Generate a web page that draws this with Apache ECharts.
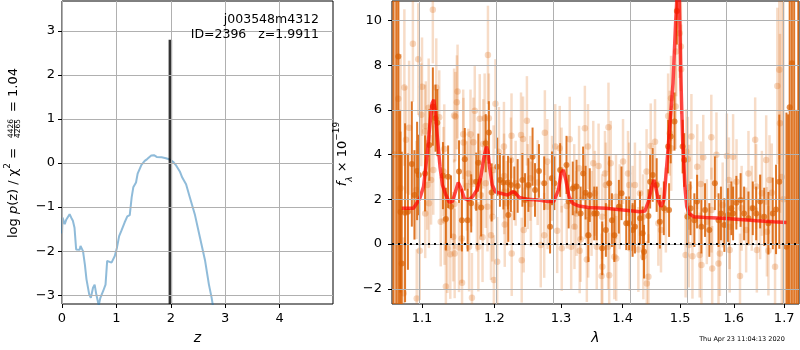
<!DOCTYPE html>
<html>
<head>
<meta charset="utf-8">
<script src="https://cdn.jsdelivr.net/npm/echarts@6/dist/echarts.min.js"></script>
<style>
  html, body { margin: 0; padding: 0; background: #fff; }
  #chart { width: 800px; height: 350px; }
</style>
</head>
<body>
<div id="chart"></div>
<script>
// left panel: log p(z)
const pzZ = [0, 0.01, 0.05, 0.08, 0.11, 0.14, 0.17, 0.2, 0.23, 0.26, 0.29, 0.325, 0.34, 0.37, 0.386, 0.42, 0.45, 0.5, 0.53, 0.57, 0.6, 0.63, 0.675, 0.705, 0.755, 0.8, 0.83, 0.865, 0.91, 0.97, 1.01, 1.05, 1.09, 1.15, 1.2, 1.245, 1.28, 1.31, 1.36, 1.39, 1.42, 1.46, 1.52, 1.565, 1.6, 1.64, 1.69, 1.74, 1.83, 1.91, 1.98, 2.04, 2.1, 2.165, 2.21, 2.28, 2.35, 2.44, 2.53, 2.63, 2.7, 2.75, 2.78]
const pzLogp = [-1.6, -1.24, -1.39, -1.28, -1.31, -1.16, -1.24, -1.31, -1.47, -1.96, -1.92, -1.97, -1.88, -1.85, -2.0, -2.3, -2.64, -2.98, -3.06, -2.83, -2.76, -2.98, -3.23, -3.06, -2.91, -2.76, -2.22, -2.19, -2.26, -2.11, -1.92, -1.66, -1.54, -1.35, -1.21, -1.18, -0.78, -0.55, -0.44, -0.24, -0.21, -0.04, 0.05, 0.09, 0.13, 0.17, 0.18, 0.14, 0.13, 0.11, 0.08, 0.03, -0.06, -0.19, -0.33, -0.48, -0.78, -1.16, -1.66, -2.22, -2.76, -3.06, -3.29]
const zBest = 1.9911
const zBestTop = 2.8
const zTicks = [0, 1, 2, 3, 4]
const pzTicks = [-3, -2, -1, 0, 1, 2, 3]
const zRange = [0, 4.98]
const pzRange = [-3.2, 3.68]

// right panel: spectrum, points are [lambda, flux, err]
const lightPts = [
  [1.0640, 4.0, 8.0], [1.0690, 6.5, 5.0], [1.0720, 2.5, 6.0], [1.0760, -2.2, 2.5], [1.0769, 7.0, 3.5],
  [1.0790, 4.66, 2.4], [1.0830, 5.2, 3.0], [1.0880, 8.96, 2.6], [1.0926, 2.42, 2.2], [1.0930, -2.43, 2.2],
  [1.0950, 8.27, 2.5], [1.0970, -0.30, 2.2], [1.0990, 5.78, 2.3], [1.1000, 7.04, 2.2], [1.1040, 5.03, 2.1],
  [1.1042, 1.37, 2.0], [1.1050, 5.28, 2.0], [1.1070, 2.64, 2.0], [1.1088, 6.10, 2.2], [1.1092, 1.82, 2.0],
  [1.1120, 2.87, 2.0], [1.1144, 10.48, 2.4], [1.1150, 3.31, 2.0], [1.1190, 7.00, 2.2], [1.1230, 5.67, 2.1],
  [1.1250, 1.00, 2.0], [1.1287, 3.24, 2.0], [1.1298, 4.25, 2.0], [1.1302, 1.07, 2.0], [1.1320, -1.90, 2.0],
  [1.1340, -0.19, 2.0], [1.1380, -0.45, 2.0], [1.1420, 0.33, 2.0], [1.1432, 5.75, 2.1], [1.1436, 1.79, 2.0],
  [1.1440, -0.42, 2.0], [1.1450, 5.70, 2.0], [1.1470, 6.34, 2.1], [1.1480, 6.82, 2.1], [1.1500, -0.15, 2.0],
  [1.1538, 0.25, 2.0], [1.1542, -1.73, 2.0], [1.1558, 4.91, 2.0], [1.1562, 4.54, 2.0], [1.1610, 2.60, 2.0],
  [1.1630, 3.16, 2.0], [1.1640, -0.12, 2.0], [1.1660, 4.91, 2.0], [1.1670, 2.79, 2.0], [1.1680, -2.40, 2.0],
  [1.1700, 4.55, 2.0], [1.1720, 5.96, 2.0], [1.1750, 1.67, 2.0], [1.1770, -0.12, 2.0], [1.1790, 5.60, 2.0],
  [1.1800, 2.19, 2.0], [1.1830, 0.30, 2.0], [1.1840, 4.48, 2.0], [1.1860, 5.63, 2.0], [1.1875, 2.72, 2.0],
  [1.1900, 1.67, 2.0], [1.1907, 8.46, 2.2], [1.1920, 5.63, 2.0], [1.1950, 0.40, 2.0], [1.1970, 1.22, 2.0],
  [1.1988, 3.31, 2.0], [1.1992, -1.61, 2.0], [1.2015, 6.27, 2.0], [1.2040, -0.79, 2.0], [1.2065, 4.13, 2.0],
  [1.2138, 4.36, 2.0], [1.2140, 3.04, 1.9], [1.2142, 2.34, 1.9], [1.2150, 0.88, 1.9], [1.2180, 1.82, 1.9],
  [1.2240, 3.76, 1.9], [1.2249, 4.84, 1.9], [1.2252, -0.42, 1.9], [1.2310, 2.72, 1.9], [1.2390, 4.88, 1.9],
  [1.2400, -0.72, 1.9], [1.2420, 4.70, 1.9], [1.2430, 0.63, 1.9], [1.2478, 5.51, 2.0], [1.2490, 2.57, 1.9],
  [1.2530, 2.94, 1.9], [1.2538, 1.79, 1.9], [1.2640, 2.75, 1.9], [1.2687, -0.04, 1.9], [1.2740, 0.39, 1.9],
  [1.2750, 4.98, 1.9], [1.2788, 3.69, 1.9], [1.2792, 1.67, 1.9], [1.2860, 2.94, 1.9], [1.2910, 4.36, 1.9],
  [1.2940, 0.60, 1.9], [1.2980, 4.28, 1.9], [1.3008, 3.31, 1.9], [1.3012, -0.19, 1.9], [1.3090, 1.70, 1.9],
  [1.3137, 4.69, 1.9], [1.3160, -0.12, 1.9], [1.3208, 2.57, 1.9], [1.3212, 0.78, 1.9], [1.3245, 1.37, 1.9],
  [1.3285, 3.39, 1.9], [1.3295, -0.30, 1.9], [1.3310, 0.21, 1.9], [1.3378, 5.18, 1.9], [1.3382, 2.12, 1.9],
  [1.3410, -0.69, 1.9], [1.3428, 4.36, 1.9], [1.3432, 0.40, 1.9], [1.3486, 1.37, 1.9], [1.3514, 3.61, 1.9],
  [1.3540, 2.27, 1.9], [1.3570, -0.12, 1.9], [1.3600, 3.49, 1.9], [1.3650, -1.43, 1.9], [1.3658, 1.22, 1.9],
  [1.3662, -1.01, 1.9], [1.3705, 3.16, 1.9], [1.3720, 2.64, 1.9], [1.3757, -0.12, 1.9], [1.3763, 5.22, 2.0],
  [1.3775, -1.39, 1.9], [1.3800, 3.61, 1.9], [1.3860, -0.57, 1.9], [1.3888, 2.12, 1.9], [1.3892, -0.64, 1.9],
  [1.3950, 1.67, 1.9], [1.4006, 3.69, 1.9], [1.4090, 3.16, 1.9], [1.4110, 2.64, 1.9], [1.4120, -0.19, 1.9],
  [1.4168, 1.60, 1.9], [1.4208, 2.64, 1.9], [1.4266, -0.24, 1.9], [1.4295, 2.27, 1.9], [1.4348, 1.22, 1.9],
  [1.4352, -0.57, 1.9], [1.4408, 3.24, 1.9], [1.4412, -1.76, 1.9], [1.4440, -1.46, 1.9], [1.4480, 4.39, 1.9],
  [1.4555, 4.58, 1.9], [1.4613, 0.93, 1.9], [1.4660, 0.63, 1.9], [1.4746, 1.52, 1.9], [1.4786, 5.73, 1.9],
  [1.4815, 4.96, 1.9], [1.4838, 6.52, 1.9], [1.4842, 4.28, 1.9], [1.4920, 6.15, 1.9], [1.4930, 8.61, 2.0],
  [1.4990, 9.43, 2.0], [1.5015, 8.84, 2.0], [1.5019, 7.82, 2.0], [1.5100, -0.49, 1.9], [1.5115, 4.13, 1.9],
  [1.5140, 3.79, 1.9], [1.5158, -0.04, 1.9], [1.5162, 2.54, 1.9], [1.5206, 4.81, 1.9], [1.5225, -0.54, 1.9],
  [1.5312, 3.46, 1.9], [1.5358, -0.49, 1.9], [1.5378, 2.69, 1.9], [1.5390, -0.94, 1.9], [1.5424, 3.88, 1.9],
  [1.5490, 1.00, 1.9], [1.5574, 4.78, 1.9], [1.5578, 1.52, 1.9], [1.5590, -1.09, 1.9], [1.5670, 3.99, 1.9],
  [1.5709, -0.87, 1.9], [1.5735, -0.42, 1.9], [1.5788, 1.75, 1.9], [1.5868, 3.94, 1.9], [1.5907, 2.87, 1.9],
  [1.5918, 0.78, 1.9], [1.5922, -0.27, 1.9], [1.5987, 3.91, 1.9], [1.6053, 2.79, 1.9], [1.6120, -1.43, 1.9],
  [1.6152, 1.60, 1.9], [1.6240, 0.63, 1.9], [1.6285, 3.16, 1.9], [1.6350, 1.60, 1.9], [1.6417, 4.66, 1.9],
  [1.6437, 2.57, 1.9], [1.6450, -0.27, 1.9], [1.6516, 1.22, 1.9], [1.6550, 2.27, 1.9], [1.6636, 3.76, 2.0],
  [1.6650, 0.55, 2.0], [1.6680, -0.30, 2.0], [1.6702, 2.87, 2.0], [1.6748, 2.30, 2.2], [1.6814, -1.01, 2.4],
  [1.6860, 7.07, 3.5], [1.6900, 7.79, 4.0], [1.6914, 5.40, 4.0], [1.6950, 3.0, 9.0], [1.6985, 2.0, 10.0]
]

const darkPts = [
  [1.0628, -12, 25], [1.0665, 14, 20], [1.0691, 8.39, 20], [1.0713, -9, 15], [1.0718, 1.43, 3.6],
  [1.0735, -0.87, 5.0], [1.0778, 1.40, 4.0], [1.0815, 1.45, 2.6], [1.0866, 3.58, 2.8], [1.0900, 2.2, 2.0],
  [1.0935, 3.27, 2.2], [1.0958, 3.09, 1.8], [1.1040, 3.16, 1.7], [1.1097, 4.43, 1.6], [1.1144, 6.15, 1.75],
  [1.1180, 5.63, 1.5], [1.1204, 5.43, 1.5], [1.1280, 3.06, 1.5], [1.1320, 1.12, 1.4], [1.1350, 3.01, 1.4],
  [1.1390, 1.67, 1.4], [1.1500, 3.24, 1.4], [1.1540, 1.07, 1.4], [1.1580, 3.79, 1.4], [1.1620, 1.07, 1.4],
  [1.1670, 1.82, 1.3], [1.1740, 2.79, 1.3], [1.1770, 3.64, 1.3], [1.1810, 1.64, 1.3], [1.1875, 4.51, 1.3],
  [1.1920, 4.99, 1.4], [1.1960, 2.31, 1.3], [1.2040, 3.46, 1.3], [1.2080, 2.87, 1.2], [1.2130, 2.75, 1.2],
  [1.2198, 2.75, 1.2], [1.2202, 1.30, 1.2], [1.2240, 2.64, 1.2], [1.2290, 2.27, 1.2], [1.2340, 2.60, 1.2],
  [1.2410, 2.87, 1.2], [1.2450, 1.97, 1.2], [1.2500, 2.64, 1.2], [1.2563, 3.91, 1.3], [1.2600, 2.42, 1.2],
  [1.2660, 3.27, 1.2], [1.2740, 2.72, 1.2], [1.2830, 0.78, 1.2], [1.2860, 2.94, 1.2], [1.2896, 2.72, 1.2],
  [1.2986, 3.31, 1.2], [1.3086, 3.54, 1.3], [1.3120, 1.90, 1.2], [1.3185, 2.49, 1.2], [1.3245, 2.57, 1.2],
  [1.3310, 1.37, 1.2], [1.3350, 3.16, 1.2], [1.3390, 2.30, 1.2], [1.3434, 0.40, 1.2], [1.3457, 2.19, 1.2],
  [1.3530, 1.37, 1.2], [1.3570, 1.37, 1.2], [1.3660, -0.19, 1.2], [1.3720, 0.63, 1.2], [1.3775, 2.72, 1.2],
  [1.3820, 1.07, 1.2], [1.3860, 0.40, 1.2], [1.3936, 1.67, 1.2], [1.3980, 2.27, 1.2], [1.4060, 0.93, 1.2],
  [1.4110, 0.93, 1.2], [1.4168, 0.63, 1.2], [1.4208, 0.78, 1.2], [1.4295, 1.15, 1.2], [1.4340, 0.48, 1.2],
  [1.4364, -0.34, 1.2], [1.4440, 1.25, 1.2], [1.4470, 2.79, 1.2], [1.4515, 3.09, 1.2], [1.4584, 2.64, 1.2],
  [1.4640, 1.00, 1.2], [1.4710, 1.60, 1.2], [1.4786, 4.36, 1.2], [1.4803, 1.52, 1.2], [1.4832, 4.81, 1.2],
  [1.4900, 5.48, 1.3], [1.4942, 10.42, 1.5], [1.5046, 4.36, 1.2], [1.5075, 3.76, 1.2], [1.5133, 1.22, 1.2],
  [1.5190, 1.60, 1.2], [1.5260, 1.07, 1.2], [1.5310, 1.90, 1.2], [1.5390, 0.78, 1.2], [1.5457, 1.52, 1.2],
  [1.5537, 0.63, 1.2], [1.5640, 2.72, 1.2], [1.5710, 1.07, 1.2], [1.5755, 1.37, 1.2], [1.5820, 0.85, 1.2],
  [1.5887, 1.30, 1.2], [1.5954, 1.60, 1.2], [1.5987, 1.37, 1.2], [1.6050, 1.85, 1.2], [1.6132, 1.97, 1.2],
  [1.6200, 1.37, 1.2], [1.6285, 1.15, 1.2], [1.6370, 1.60, 1.2], [1.6437, 1.37, 1.2], [1.6516, 1.90, 1.2],
  [1.6596, 1.22, 1.3], [1.6680, 0.93, 1.4], [1.6768, 1.37, 1.6], [1.6834, 1.55, 2.0], [1.6900, 2.79, 3.0],
  [1.7046, -0.12, 6.0], [1.7080, -4, 9.8], [1.7112, 6.12, 20], [1.7158, 8.09, 20], [1.7205, 13, 18],
  [1.7250, -10, 16], [1.7290, 14, 20]
]

const modelLam = [1.0735, 1.0888, 1.097, 1.102, 1.1065, 1.1102, 1.1134, 1.1157, 1.118, 1.1204, 1.124, 1.1273, 1.132, 1.1366, 1.141, 1.1458, 1.149, 1.1528, 1.1574, 1.163, 1.169, 1.175, 1.1805, 1.1852, 1.1884, 1.1907, 1.193, 1.1968, 1.2014, 1.209, 1.219, 1.2264, 1.23, 1.2364, 1.249, 1.2637, 1.281, 1.2886, 1.296, 1.3, 1.3036, 1.3076, 1.3125, 1.3185, 1.3285, 1.3434, 1.3717, 1.4006, 1.4295, 1.438, 1.444, 1.45, 1.4538, 1.4572, 1.4613, 1.466, 1.471, 1.477, 1.4815, 1.4873, 1.492, 1.4975, 1.5017, 1.5046, 1.5087, 1.5121, 1.5162, 1.5248, 1.5457, 1.5788, 1.612, 1.645, 1.678, 1.7046]
const modelFlux = [1.6, 1.6, 2.04, 2.57, 3.91, 5.25, 6.3, 6.45, 5.85, 4.81, 3.46, 2.64, 2.19, 1.87, 1.9, 2.42, 2.75, 2.49, 2.04, 1.97, 2.12, 2.42, 3.01, 3.91, 4.36, 4.13, 3.46, 2.64, 2.34, 2.27, 2.19, 2.34, 2.3, 2.09, 2.0, 1.97, 1.9, 1.9, 2.42, 3.16, 3.31, 2.87, 2.12, 1.82, 1.70, 1.64, 1.60, 1.52, 1.45, 1.48, 1.9, 2.57, 2.87, 2.49, 1.97, 1.67, 1.97, 3.76, 5.25, 7.19, 9.9, 12.5, 7.19, 4.66, 2.57, 1.67, 1.37, 1.22, 1.19, 1.15, 1.10, 1.04, 1.0, 0.97]

const lamTicks = [1.1, 1.2, 1.3, 1.4, 1.5, 1.6, 1.7]
const fluxTicks = [-2, 0, 2, 4, 6, 8, 10]
const lamRange = [1.0610, 1.7305]
const fluxRange = [-2.68, 10.87]

const FONT = 'DejaVu Sans'
const GRIDC = '#b0b0b0'
const LIGHT_BAR = 'rgba(217, 95, 2, 0.22)'
const LIGHT_DOT = 'rgba(217, 95, 2, 0.3)'
const DARK = 'rgba(217, 95, 2, 0.85)'

const lg = (v) => Math.log10(v)
const minus = (s) => String(s).replace('-', '\u2212')

// vertical error bar, clamped to the plot box
const errBar = (color, width) => (params, api) => {
  const cs = params.coordSys
  const x = api.coord([api.value(0), 0])[0]
  const clamp = (y) => Math.min(Math.max(y, cs.y), cs.y + cs.height)
  const y1 = clamp(api.coord([api.value(0), api.value(1)])[1])
  const y2 = clamp(api.coord([api.value(0), api.value(2)])[1])
  return {
    type: 'line',
    shape: { x1: x, y1: y1, x2: x, y2: y2 },
    style: { stroke: color, lineWidth: width }
  }
}

const mkAxis = (extra, ticks, fmt, margin) => Object.assign({
  axisLine: { show: false, onZero: false },
  axisTick: { show: true, length: 4, customValues: ticks, lineStyle: { color: '#000', width: 1 } },
  axisLabel: { color: '#000', fontFamily: FONT, fontSize: 13, customValues: ticks, formatter: fmt, margin: margin },
  splitLine: { show: false }
}, extra)

// grid lines drawn as mark lines under the data
const gridLines = (xi, xs, ys) => ({
  type: 'line', xAxisIndex: xi, yAxisIndex: xi, z: 0, silent: true,
  data: [], showSymbol: false,
  markLine: {
    silent: true, symbol: 'none', label: { show: false }, animation: false,
    lineStyle: { color: GRIDC, width: 1, type: 'solid' },
    data: xs.map((v) => ({ xAxis: v })).concat(ys.map((v) => ({ yAxis: v })))
  }
})

const chart = echarts.init(document.getElementById('chart'), null, { renderer: 'canvas' })

chart.setOption({
  animation: false,
  backgroundColor: '#fff',
  grid: [
    { left: 62, top: 1, width: 271, height: 303, show: true, borderColor: '#000', borderWidth: 1, backgroundColor: 'transparent' },
    { left: 392, top: 1, width: 407, height: 303, show: true, borderColor: '#000', borderWidth: 1, backgroundColor: 'transparent' }
  ],
  xAxis: [
    mkAxis({ gridIndex: 0, type: 'value', min: zRange[0], max: zRange[1],
      name: 'z', nameLocation: 'middle', nameGap: 27,
      nameTextStyle: { fontFamily: FONT, fontSize: 14, fontStyle: 'italic', color: '#000' } },
      zTicks, (v) => minus(v), 8),
    mkAxis({ gridIndex: 1, type: 'value', min: lg(lamRange[0]), max: lg(lamRange[1]),
      name: 'λ', nameLocation: 'middle', nameGap: 27,
      nameTextStyle: { fontFamily: FONT, fontSize: 14, fontStyle: 'italic', color: '#000' } },
      lamTicks.map(lg), (v) => Math.pow(10, v).toFixed(1), 8)
  ],
  yAxis: [
    mkAxis({ gridIndex: 0, type: 'value', min: pzRange[0], max: pzRange[1] },
      pzTicks, (v) => minus(v), 7),
    mkAxis({ gridIndex: 1, type: 'value', min: fluxRange[0], max: fluxRange[1] },
      fluxTicks, (v) => minus(v), 10)
  ],
  graphic: [
    { type: 'text', x: 319, y: 20, z: 100, style: { text: 'j003548m4312', align: 'right', verticalAlign: 'middle', fontFamily: FONT, fontSize: 12.5, fill: '#000' } },
    { type: 'text', x: 319, y: 35, z: 100, style: { text: 'ID=2396   z=1.9911', align: 'right', verticalAlign: 'middle', fontFamily: FONT, fontSize: 12.5, fill: '#000' } },
    { type: 'text', x: 742, y: 339, style: { text: 'Thu Apr 23 11:04:13 2020', align: 'center', verticalAlign: 'middle', fontFamily: FONT, fontSize: 6.5, fill: '#000' } },
    {
      type: 'group', x: 13.7, y: 238, rotation: Math.PI / 2,
      children: [
        { type: 'text', x: 0, y: 0, style: {
          text: 'log {i|p}(z) / χ{sup|2} = ', align: 'left', verticalAlign: 'middle',
          fontFamily: FONT, fontSize: 13, fill: '#000',
          rich: {
            i: { fontFamily: FONT, fontSize: 13, fontStyle: 'italic', lineHeight: 22, verticalAlign: 'middle' },
            sup: { fontFamily: FONT, fontSize: 9, lineHeight: 12, verticalAlign: 'top' }
          }
        } },
        { type: 'text', x: 109.5, y: -2.3, style: { text: '4426', align: 'center', verticalAlign: 'middle', fontFamily: FONT, fontSize: 7.5, fill: '#000' } },
        { type: 'line', shape: { x1: 101.5, y1: 0.8, x2: 117.5, y2: 0.8 }, style: { stroke: '#000', lineWidth: 0.8 } },
        { type: 'text', x: 109.5, y: 4.2, style: { text: '4265', align: 'center', verticalAlign: 'middle', fontFamily: FONT, fontSize: 7.5, fill: '#000' } },
        { type: 'text', x: 170, y: 0, style: { text: ' = 1.04', align: 'right', verticalAlign: 'middle', fontFamily: FONT, fontSize: 13, fill: '#000' } }
      ]
    },
    {
      type: 'text', x: 343, y: 154, rotation: Math.PI / 2,
      style: {
        text: '{i|f}{sub|λ} × 10{sup|−19}', align: 'center', verticalAlign: 'middle',
        fontFamily: FONT, fontSize: 13, fill: '#000',
        rich: {
          i: { fontFamily: FONT, fontSize: 13, fontStyle: 'italic', lineHeight: 22 },
          sub: { fontFamily: FONT, fontSize: 9, fontStyle: 'italic', lineHeight: 12, verticalAlign: 'bottom' },
          sup: { fontFamily: FONT, fontSize: 9, lineHeight: 12, verticalAlign: 'top' }
        }
      }
    }
  ],
  series: [
    gridLines(0, zTicks, pzTicks),
    gridLines(1, lamTicks.map(lg), fluxTicks),
    {
      type: 'line', xAxisIndex: 0, yAxisIndex: 0,
      data: pzZ.map((z, i) => [z, pzLogp[i]]),
      showSymbol: false, clip: true,
      lineStyle: { color: 'rgba(31, 119, 180, 0.5)', width: 2 }
    },
    {
      type: 'line', xAxisIndex: 0, yAxisIndex: 0,
      data: [[zBest, pzRange[0]], [zBest, zBestTop]],
      showSymbol: false, clip: true,
      lineStyle: { color: 'rgba(0, 0, 0, 0.8)', width: 3.5 }
    },
    {
      type: 'custom', xAxisIndex: 1, yAxisIndex: 1, clip: true,
      data: lightPts.map((p) => [lg(p[0]), p[1] - p[2], p[1] + p[2]]),
      encode: { x: 0, y: [1, 2] },
      renderItem: errBar(LIGHT_BAR, 2.5)
    },
    {
      type: 'scatter', xAxisIndex: 1, yAxisIndex: 1, clip: true,
      data: lightPts.map((p) => [lg(p[0]), p[1]]),
      symbol: 'circle', symbolSize: 6.5,
      itemStyle: { color: LIGHT_DOT }
    },
    {
      type: 'custom', xAxisIndex: 1, yAxisIndex: 1, clip: true,
      data: darkPts.map((p) => [lg(p[0]), p[1] - p[2], p[1] + p[2]]),
      encode: { x: 0, y: [1, 2] },
      renderItem: errBar(DARK, 2)
    },
    {
      type: 'scatter', xAxisIndex: 1, yAxisIndex: 1, clip: true,
      data: darkPts.map((p) => [lg(p[0]), p[1]]),
      symbol: 'circle', symbolSize: 6,
      itemStyle: { color: DARK }
    },
    {
      type: 'line', xAxisIndex: 1, yAxisIndex: 1,
      data: modelLam.map((l, i) => [lg(l), modelFlux[i]]),
      showSymbol: false, clip: true,
      lineStyle: { color: 'rgba(255, 0, 0, 0.7)', width: 3.5 },
      markLine: {
        silent: true, symbol: 'none', label: { show: false },
        lineStyle: { color: '#000', width: 2, type: [2, 4] },
        data: [{ yAxis: 0 }]
      }
    }
  ]
})
</script>
</body>
</html>
